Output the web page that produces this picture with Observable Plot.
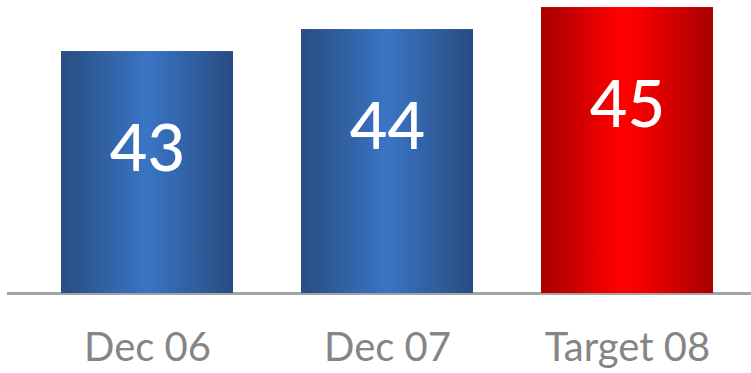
<!DOCTYPE html>
<html>
<head>
<meta charset="utf-8">
<script src="https://cdn.jsdelivr.net/npm/d3@7"></script>
<script src="https://cdn.jsdelivr.net/npm/@observablehq/plot@0.6"></script>
<style>
  html, body { margin: 0; padding: 0; background: #fff; }
  svg { display: block; }
</style>
</head>
<body>
<div id="chart"></div>
<script>
const categories = ["Dec 06", "Dec 07", "Target 08"];
const values = [43, 44, 45];
const kinds = ["actual", "actual", "target"];
const baseValue = 32;

const data = categories.map((c, i) => ({category: c, value: values[i], kind: kinds[i]}));

const chart = Plot.plot({
  width: 751,
  height: 373,
  marginLeft: 26,
  marginRight: 3,
  marginTop: 0,
  marginBottom: 80,
  style: {fontFamily: "Lato, 'Open Sans', sans-serif", background: "#fff"},
  x: {domain: categories, padding: 0.285, paddingOuter: 0.1425, label: null},
  y: {domain: [baseValue, 45.32], axis: null},
  marks: [
    Plot.ruleY([baseValue], {stroke: "#a3a3a3", strokeWidth: 3, insetLeft: -19, insetRight: -3}),
    Plot.barY(data.filter(d => d.kind === "actual"), {x: "category", y1: baseValue, y2: "value", fill: "url(#blueGrad)"}),
    Plot.barY(data.filter(d => d.kind === "target"), {x: "category", y1: baseValue, y2: "value", fill: "url(#redGrad)"}),
    Plot.text(data, {x: "category", y: "value", text: d => String(d.value), dy: 99, fill: "white", fontSize: 65, fontWeight: 500}),
    Plot.axisX({tickSize: 0, tickPadding: 39, fontSize: 40, fill: "#858585", label: null})
  ]
});

const svg = d3.select(chart);
const defs = svg.insert("defs", ":first-child");
const blue = defs.append("linearGradient").attr("id", "blueGrad").attr("x1", "0%").attr("x2", "100%").attr("y1", "0%").attr("y2", "0%");
[["0%", "#284e83"], ["15%", "#2d5894"], ["50%", "#3a75c5"], ["85%", "#2d5894"], ["100%", "#264c80"]].forEach(([o, c]) => blue.append("stop").attr("offset", o).attr("stop-color", c));
const red = defs.append("linearGradient").attr("id", "redGrad").attr("x1", "0%").attr("x2", "100%").attr("y1", "0%").attr("y2", "0%");
[["0%", "#aa0000"], ["10%", "#b80000"], ["45%", "#ff0000"], ["55%", "#fb0000"], ["90%", "#b80000"], ["100%", "#a80000"]].forEach(([o, c]) => red.append("stop").attr("offset", o).attr("stop-color", c));

document.getElementById("chart").appendChild(chart);
</script>
</body>
</html>
